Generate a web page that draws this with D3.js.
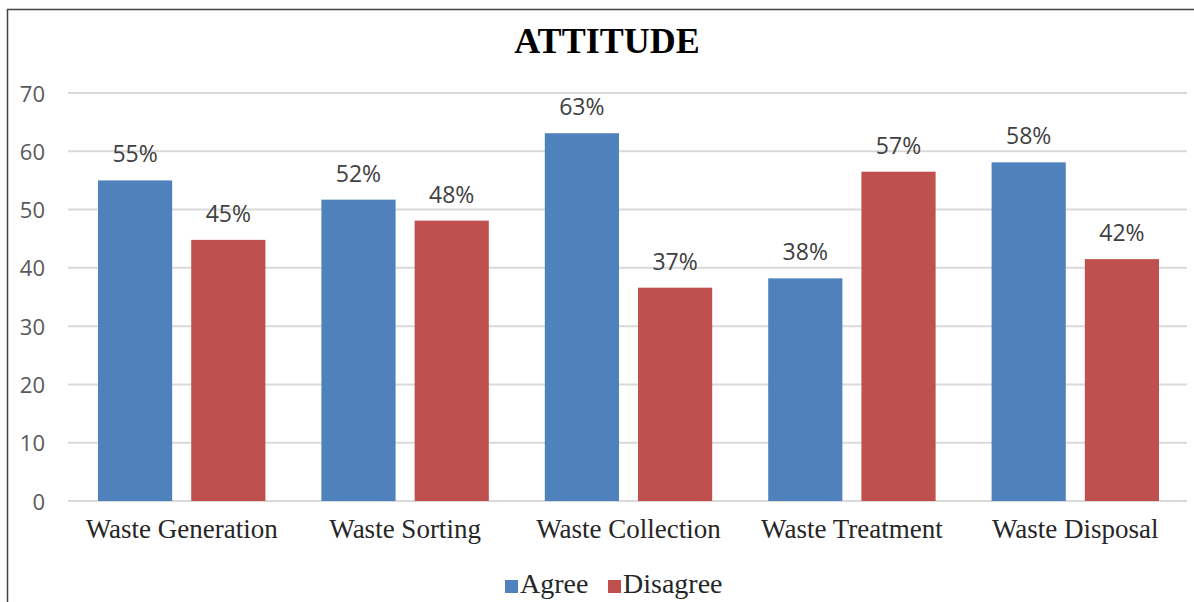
<!DOCTYPE html>
<html>
<head>
<meta charset="utf-8">
<script src="https://cdn.jsdelivr.net/npm/d3@7"></script>
<style>
  html, body { margin: 0; padding: 0; background: #fff; }
  svg { display: block; }
</style>
</head>
<body>
<svg id="chart" width="1194" height="602"></svg>
<script>
const categories = ["Waste Generation", "Waste Sorting", "Waste Collection", "Waste Treatment", "Waste Disposal"];
const seriesNames = ["Agree", "Disagree"];
const agree = [55, 51.7, 63.1, 38.2, 58.1];
const disagree = [44.8, 48.1, 36.6, 56.5, 41.5];
const agreeLabels = ["55%", "52%", "63%", "38%", "58%"];
const disagreeLabels = ["45%", "48%", "37%", "57%", "42%"];
const yTicks = [0, 10, 20, 30, 40, 50, 60, 70];
const colors = ["#4F81BD", "#C0504D"];

const svg = d3.select("#chart");

// border
svg.append("path")
  .attr("d", "M7.5,602 L7.5,9.5 L1194,9.5")
  .attr("fill", "none").attr("stroke", "#444").attr("stroke-width", 1.5);

const x0 = d3.scaleBand().domain(categories).range([70, 1187]).padding(0);
const x1 = d3.scaleBand().domain(seriesNames).range([28, x0.bandwidth() - 28]).paddingInner(19 / 93).paddingOuter(0);
const y = d3.scaleLinear().domain([0, 70]).range([501, 93]);

// gridlines
svg.append("g").selectAll("line").data(yTicks).join("line")
  .attr("x1", 68).attr("x2", 1187)
  .attr("y1", d => y(d)).attr("y2", d => y(d))
  .attr("stroke", "#d9d9d9").attr("stroke-width", 2);

// y axis labels
const yAxis = d3.axisLeft(y).tickValues(yTicks).tickSize(0).tickPadding(0);
const gy = svg.append("g").attr("transform", "translate(45,1)").call(yAxis);
gy.select(".domain").remove();
gy.selectAll("text")
  .attr("font-family", "'Open Sans', 'DejaVu Sans', sans-serif")
  .attr("font-size", 22).attr("fill", "#595959");

// bars
const data = categories.map((c, i) => ({ cat: c, vals: [
  { s: "Agree", v: agree[i], lab: agreeLabels[i] },
  { s: "Disagree", v: disagree[i], lab: disagreeLabels[i] }
]}));

const groups = svg.append("g").selectAll("g").data(data).join("g")
  .attr("transform", d => `translate(${x0(d.cat)},0)`);

groups.selectAll("rect").data(d => d.vals).join("rect")
  .attr("x", d => x1(d.s))
  .attr("width", x1.bandwidth())
  .attr("y", d => y(d.v))
  .attr("height", d => y(0) - y(d.v))
  .attr("fill", (d, i) => colors[i]);

groups.selectAll("text").data(d => d.vals).join("text")
  .attr("x", d => x1(d.s) + x1.bandwidth() / 2)
  .attr("y", d => y(d.v) - 18)
  .attr("text-anchor", "middle")
  .attr("font-family", "'Open Sans', 'DejaVu Sans', sans-serif")
  .attr("font-size", 23).attr("fill", "#404040")
  .text(d => d.lab);

// x axis labels
const xAxis = d3.axisBottom(x0).tickSize(0).tickPadding(0);
const gx = svg.append("g").attr("transform", "translate(0,538)").call(xAxis);
gx.select(".domain").remove();
gx.selectAll("text")
  .attr("y", 0).attr("dy", 0)
  .attr("font-family", "'Liberation Serif', 'Times New Roman', serif")
  .attr("font-size", 27).attr("fill", "#262626");

// title
svg.append("text")
  .attr("x", 607).attr("y", 53)
  .attr("text-anchor", "middle")
  .attr("font-family", "'Liberation Serif', 'Times New Roman', serif")
  .attr("font-weight", "bold").attr("font-size", 36).attr("fill", "#000")
  .text("ATTITUDE");

// legend
const legendX = [505, 608];
const lg = svg.append("g").selectAll("g").data(seriesNames).join("g")
  .attr("transform", (d, i) => `translate(${legendX[i]},580)`);
lg.append("rect").attr("width", 13).attr("height", 13).attr("fill", (d, i) => colors[i]);
lg.append("text").attr("x", 15).attr("y", 13)
  .attr("font-family", "'Liberation Serif', 'Times New Roman', serif")
  .attr("font-size", 28).attr("fill", "#262626")
  .text(d => d);
</script>
</body>
</html>
